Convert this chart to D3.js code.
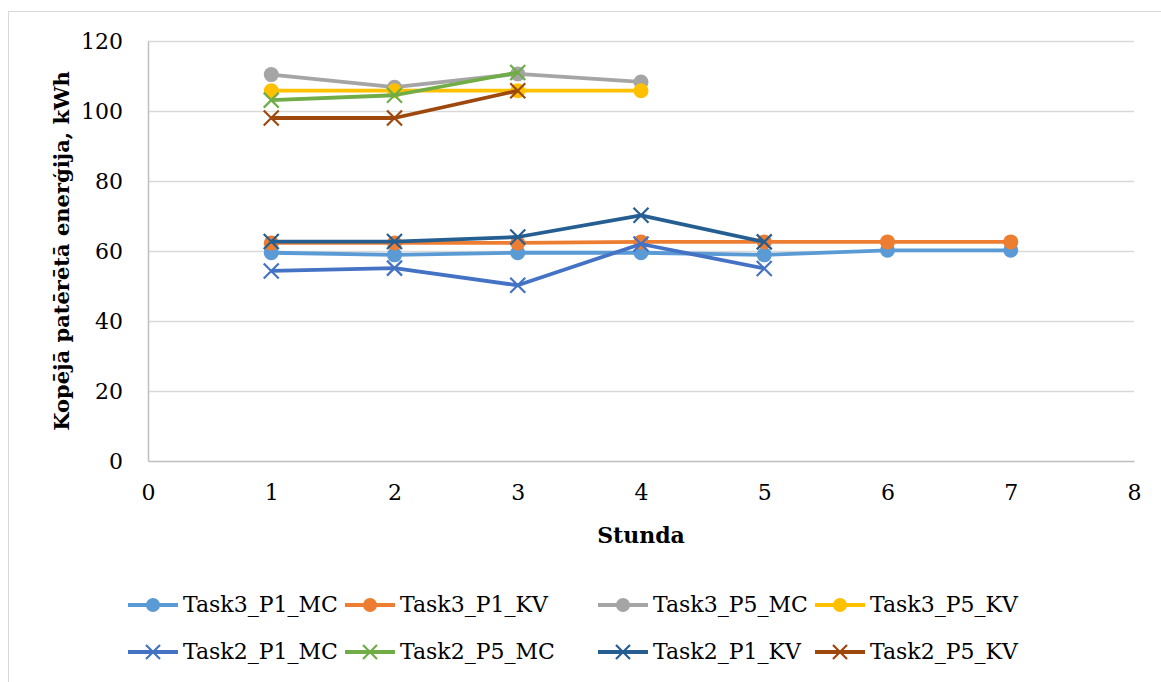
<!DOCTYPE html>
<html>
<head>
<meta charset="utf-8">
<script src="https://cdn.jsdelivr.net/npm/d3@7"></script>
<style>
  body { margin: 0; background: #fff; }
  svg { display: block; }
</style>
</head>
<body>
<div id="chart"></div>
<script>
// Data
const hours = [1, 2, 3, 4, 5, 6, 7];
const yTicks = [0, 20, 40, 60, 80, 100, 120];
const xTicks = [0, 1, 2, 3, 4, 5, 6, 7, 8];

const seriesNames = [
  'Task3_P1_MC', 'Task3_P1_KV', 'Task3_P5_MC', 'Task3_P5_KV',
  'Task2_P1_MC', 'Task2_P5_MC', 'Task2_P1_KV', 'Task2_P5_KV'
];
const seriesColors = [
  '#5B9BD5', '#ED7D31', '#A5A5A5', '#FFC000',
  '#4472C4', '#70AD47', '#255E91', '#9E480E'
];
const seriesMarkers = ['circle', 'circle', 'circle', 'circle', 'x', 'x', 'x', 'x'];

const task3P1MC = [59.5, 58.9, 59.5, 59.5, 58.9, 60.2, 60.2];
const task3P1KV = [62.3, 62.3, 62.3, 62.6, 62.6, 62.6, 62.6];
const task3P5MC = [110.4, 106.8, 110.6, 108.3];
const task3P5KV = [105.8, 105.8, 105.8, 105.8];
const task2P1MC = [54.3, 55.1, 50.2, 62.0, 55.0];
const task2P5MC = [103.1, 104.5, 111.0];
const task2P1KV = [62.7, 62.7, 64.0, 70.2, 62.6];
const task2P5KV = [98.0, 98.0, 105.8];

const seriesValues = [task3P1MC, task3P1KV, task3P5MC, task3P5KV,
                      task2P1MC, task2P5MC, task2P1KV, task2P5KV];

const FONT = 'DejaVu Serif';
const width = 1161, height = 682;
const plot = { left: 148, top: 41, right: 1134, bottom: 461 };

const svg = d3.select('#chart').append('svg')
  .attr('width', width)
  .attr('height', height)
  .attr('font-family', FONT);

// outer chart border
svg.append('rect')
  .attr('x', 8.5).attr('y', 11.5)
  .attr('width', 1170).attr('height', 690)
  .attr('fill', 'none')
  .attr('stroke', '#d9d9d9')
  .attr('stroke-width', 1);

const x = d3.scaleLinear().domain([0, 8]).range([plot.left, plot.right]);
const y = d3.scaleLinear().domain([0, 120]).range([plot.bottom, plot.top]);

// gridlines
svg.append('g')
  .selectAll('line')
  .data(yTicks.filter(d => d > 0))
  .join('line')
  .attr('x1', plot.left).attr('x2', plot.right)
  .attr('y1', d => Math.round(y(d)) + 0.5)
  .attr('y2', d => Math.round(y(d)) + 0.5)
  .attr('stroke', '#d9d9d9')
  .attr('stroke-width', 1.5);

// axes
const yAxis = svg.append('g')
  .attr('transform', `translate(${plot.left},0)`)
  .call(d3.axisLeft(y).tickValues(yTicks).tickSize(0).tickPadding(25));
const xAxis = svg.append('g')
  .attr('transform', `translate(0,${plot.bottom})`)
  .call(d3.axisBottom(x).tickValues(xTicks).tickSize(0).tickPadding(23));

[yAxis, xAxis].forEach(a => {
  a.attr('font-family', FONT).attr('font-size', 22);
  a.select('.domain').attr('stroke', '#bfbfbf').attr('stroke-width', 1.5);
  a.selectAll('text').attr('fill', '#000');
});

// axis titles
svg.append('text')
  .attr('transform', `translate(69,${(plot.top + plot.bottom) / 2}) rotate(-90)`)
  .attr('text-anchor', 'middle')
  .attr('font-size', 21)
  .attr('font-weight', 'bold')
  .text('Kopējā patērētā enerģija, kWh');

svg.append('text')
  .attr('x', (plot.left + plot.right) / 2)
  .attr('y', 543)
  .attr('text-anchor', 'middle')
  .attr('font-size', 22)
  .attr('font-weight', 'bold')
  .text('Stunda');

// series
const line = d3.line().x(d => x(d.h)).y(d => y(d.v));

function drawMarker(g, type, color, r) {
  if (type === 'circle') {
    g.append('circle').attr('r', r).attr('fill', color);
  } else {
    const s = r;
    g.append('path')
      .attr('d', `M${-s},${-s}L${s},${s}M${-s},${s}L${s},${-s}`)
      .attr('stroke', color)
      .attr('stroke-width', 2.2)
      .attr('fill', 'none');
  }
}

seriesNames.forEach((name, i) => {
  const pts = seriesValues[i].map((v, j) => ({ h: hours[j], v }));
  const g = svg.append('g').attr('class', 'series');
  g.append('path')
    .datum(pts)
    .attr('d', line)
    .attr('fill', 'none')
    .attr('stroke', seriesColors[i])
    .attr('stroke-width', 3.8)
    .attr('stroke-linejoin', 'round');
  pts.forEach(p => {
    const m = g.append('g').attr('transform', `translate(${x(p.h)},${y(p.v)})`);
    drawMarker(m, seriesMarkers[i], seriesColors[i], 7.5);
  });
});

// legend
const legendCols = [128, 345, 598, 815];
const legendRows = [605, 652];
const legend = svg.append('g');
seriesNames.forEach((name, i) => {
  const lx = legendCols[i % 4];
  const ly = legendRows[Math.floor(i / 4)];
  const item = legend.append('g').attr('transform', `translate(${lx},${ly})`);
  item.append('line')
    .attr('x1', 0).attr('x2', 50)
    .attr('stroke', seriesColors[i])
    .attr('stroke-width', 3.8);
  const m = item.append('g').attr('transform', 'translate(25,0)');
  drawMarker(m, seriesMarkers[i], seriesColors[i], 7);
  item.append('text')
    .attr('x', 55)
    .attr('dy', '0.33em')
    .attr('font-size', 22)
    .text(name);
});
</script>
</body>
</html>
